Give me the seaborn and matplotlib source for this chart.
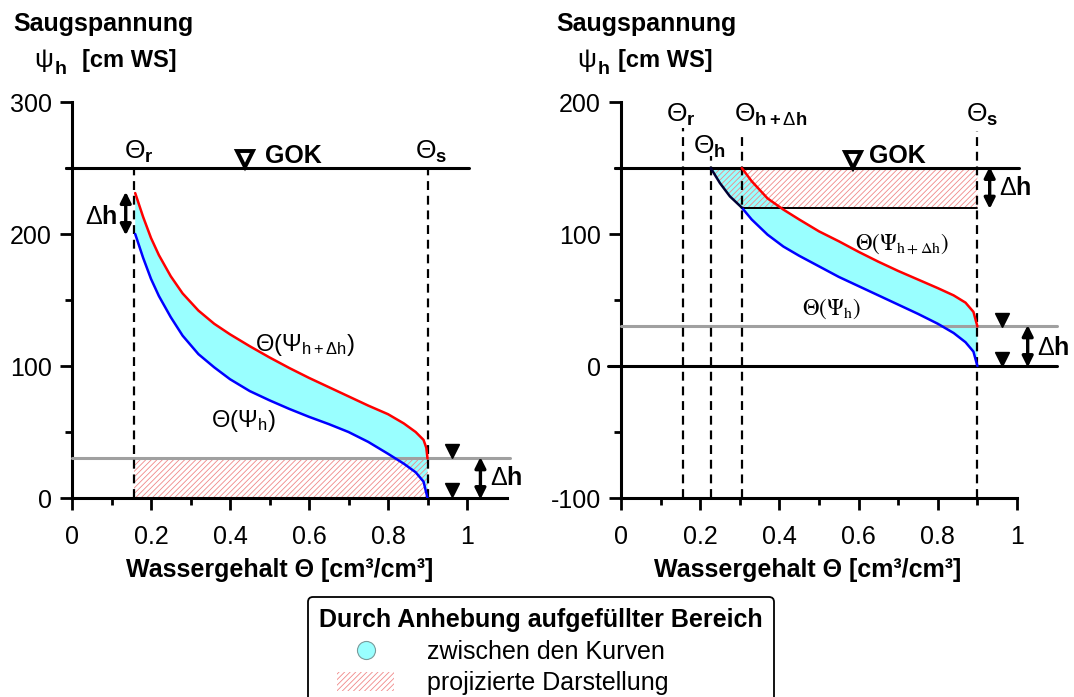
import numpy as np
import pandas as pd
import matplotlib
matplotlib.use("Agg")
import matplotlib.pyplot as plt
import seaborn as sns
from matplotlib.lines import Line2D
from matplotlib.patches import Patch

# ---------------- data ----------------
theta_r = 0.157
theta_s = 0.90
theta_h = 0.2265
theta_hdh = 0.305
dh = 30

# left panel: GOK at 250, water table raised 0 -> 30
left_blue_x = [0.16, 0.18, 0.20, 0.22, 0.25, 0.28, 0.32, 0.36, 0.40, 0.45, 0.50, 0.55,
               0.60, 0.65, 0.70, 0.75, 0.80, 0.84, 0.87, 0.89, 0.90]
left_blue_y = [200, 182, 166, 153, 137, 123, 109, 99, 90, 81, 74, 67.5,
               61.5, 56, 50, 42.5, 33.5, 26, 19.5, 12.4, 0]
left_red_x = [0.16, 0.18, 0.20, 0.22, 0.25, 0.28, 0.32, 0.36, 0.40, 0.45, 0.50, 0.55,
              0.60, 0.65, 0.70, 0.75, 0.80, 0.84, 0.87, 0.89, 0.897, 0.90]
left_red_y = [231, 213, 197, 184, 168, 155, 142, 132, 124, 115, 106.5, 98.5,
              91, 84, 77, 70, 63.5, 56.5, 50, 44, 38, 30]

# right panel: GOK at 150
right_blue_x = [0.2265, 0.25, 0.275, 0.305, 0.33, 0.37, 0.41, 0.45, 0.50, 0.55, 0.60,
                0.65, 0.70, 0.75, 0.80, 0.84, 0.87, 0.89, 0.90]
right_blue_y = [150, 138.5, 128.5, 120, 111, 99.5, 90.5, 83.5, 75.5, 67.5, 60.5,
                53.5, 46.5, 39.5, 32, 25, 18, 10.9, 0]
right_red_x = [0.305, 0.33, 0.37, 0.41, 0.45, 0.50, 0.55, 0.60, 0.65, 0.70, 0.75,
               0.80, 0.84, 0.87, 0.89, 0.90]
right_red_y = [150, 140, 127, 118.5, 111, 102, 94.5, 86.5, 79, 72, 65.5,
               59, 53.5, 48, 41, 30]

left_yticks = [0, 100, 200, 300]
right_yticks = [-100, 0, 100, 200]
xticks = [0, 0.2, 0.4, 0.6, 0.8, 1.0]
xtick_labels = ["0", "0.2", "0.4", "0.6", "0.8", "1"]

legend_title = "Durch Anhebung aufgefüllter Bereich"
legend_labels = ["zwischen den Kurven", "projizierte Darstellung"]

# ---------------- style ----------------
sns.set_theme(style="ticks")
plt.rcParams["font.family"] = ["Liberation Sans", "DejaVu Sans"]
plt.rcParams["mathtext.fontset"] = "custom"
plt.rcParams["mathtext.rm"] = "Liberation Sans"
plt.rcParams["mathtext.it"] = "Liberation Sans:italic"
plt.rcParams["mathtext.bf"] = "Liberation Sans:bold"
plt.rcParams["hatch.linewidth"] = 0.6
plt.rcParams["text.color"] = "black"
plt.rcParams["axes.labelcolor"] = "black"
plt.rcParams["xtick.color"] = "black"
plt.rcParams["ytick.color"] = "black"
plt.rcParams["legend.labelcolor"] = "black"

CYAN = "#99ffff"
RED = "#ff0000"
BLUE = "#0000ff"
HATCH = "#f08888"
GRAY = "#a0a0a0"

W, H = 1074, 697
fig = plt.figure(figsize=(W / 100, H / 100), dpi=100)

axL = fig.add_axes([72 / W, (H - 498) / H, 1.1 * 395 / W, 396 / H])
axR = fig.add_axes([621 / W, (H - 498) / H, 1.1 * 396 / W, 396 / H])


def style_axis(ax, ylim, yticks, xbound):
    ax.set_xlim(0, 1.1)
    ax.set_ylim(*ylim)
    for s in ["top", "right"]:
        ax.spines[s].set_visible(False)
    for s in ["left", "bottom"]:
        ax.spines[s].set_linewidth(2.2)
        ax.spines[s].set_color("black")
    ax.spines["left"].set_bounds(ylim[0], ylim[1])
    ax.spines["bottom"].set_bounds(0, xbound)
    ax.set_xticks(xticks)
    ax.set_xticklabels(xtick_labels)
    ax.set_xticks([0.1, 0.3, 0.5, 0.7, 0.9], minor=True)
    ax.set_yticks(yticks)
    ax.set_yticklabels([str(v) for v in yticks])
    ax.set_yticks([v + 50 for v in yticks[:-1]], minor=True)
    ax.tick_params(which="major", direction="out", length=8.6, width=2.0,
                   labelsize=18, color="black", labelcolor="black")
    ax.tick_params(axis="x", which="major", pad=11)
    ax.tick_params(axis="y", which="major", pad=6)
    ax.tick_params(which="minor", direction="out", length=5, width=2.0, color="black")
    ax.set_xlabel("")
    ax.set_ylabel("")
    ax.patch.set_alpha(0)


style_axis(axL, (0, 300), left_yticks, 1.1)
style_axis(axR, (-100, 200), right_yticks, 1.0)

dash = (0, (4, 2.6))
arrow_kw = dict(arrowstyle="<|-|>", color="black", lw=2.4, mutation_scale=16,
                shrinkA=0, shrinkB=0)

# ---------------- left panel ----------------
ax = axL
ax.fill(left_red_x + left_blue_x[::-1], left_red_y + left_blue_y[::-1],
        color=CYAN, lw=0, zorder=1)
ax.fill_between([theta_r, theta_s], 0, dh, facecolor="none", edgecolor=HATCH,
                hatch="//////", lw=0, zorder=2)
ax.plot([-0.015, 1.005], [250, 250], color="black", lw=2.2, zorder=4, clip_on=False)
ax.plot([0.0, 1.108], [dh, dh], color=GRAY, lw=2.2, zorder=3, clip_on=False)
for xv in [theta_r, theta_s]:
    ax.plot([xv, xv], [0, 249], color="black", lw=1.6, ls=dash, zorder=3)
sns.lineplot(x=left_blue_x, y=left_blue_y, ax=ax, color=BLUE, lw=1.8,
             sort=False, estimator=None, zorder=5)
sns.lineplot(x=left_red_x, y=left_red_y, ax=ax, color=RED, lw=1.8,
             sort=False, estimator=None, zorder=5)

ax.text(0.132, 257.3, r"$\Theta_{\mathbf{r}}$", fontsize=19, ha="left", va="baseline")
ax.text(0.868, 257.3, r"$\Theta_{\mathbf{s}}$", fontsize=19, ha="left", va="baseline")
ax.plot([0.438], [256.8], marker="v", ms=12, mfc="white", mec="black", mew=2.8,
        clip_on=False, zorder=6)
ax.text(0.489, 253.6, "GOK", fontsize=18, fontweight="bold", ha="left", va="baseline")
ax.annotate("", xy=(0.136, 199), xytext=(0.136, 232), arrowprops=arrow_kw)
ax.text(0.115, 213, r"$\Delta\mathbf{h}$", fontsize=18, ha="right", va="center")
ax.text(0.463, 111, r"$\Theta(\Psi_{\mathrm{h+}\Delta\mathrm{h}})$", fontsize=17,
        ha="left", va="baseline")
ax.text(0.353, 54, r"$\Theta(\Psi_{\mathrm{h}})$", fontsize=17, ha="left", va="baseline")
ax.plot([0.962, 0.962], [35.6, 6], ls="none", marker="v", ms=10, color="black",
        clip_on=False, zorder=6)
ax.annotate("", xy=(1.034, -1), xytext=(1.034, 31), arrowprops=arrow_kw,
            annotation_clip=False)
ax.text(1.058, 15, r"$\Delta\mathbf{h}$", fontsize=18, ha="left", va="center")

# ---------------- right panel ----------------
ax = axR
gok_r = 150
upper_x = [right_blue_x[0]] + right_red_x
upper_y = [gok_r] + right_red_y
ax.fill(upper_x + right_blue_x[::-1], upper_y + right_blue_y[::-1],
        color=CYAN, lw=0, zorder=1)
n_top = right_blue_x.index(theta_hdh) + 1
hx = right_blue_x[:n_top] + [theta_s, theta_s]
hy = right_blue_y[:n_top] + [gok_r - dh, gok_r]
ax.fill(hx, hy, facecolor="none", edgecolor=HATCH, hatch="//////", lw=0, zorder=2)
ax.plot([-0.015, 1.004], [gok_r, gok_r], color="black", lw=2.2, zorder=4, clip_on=False)
ax.plot([theta_hdh, theta_s], [gok_r - dh, gok_r - dh], color="black", lw=1.4, zorder=4)
ax.plot([0.0, 1.1], [dh, dh], color=GRAY, lw=2.2, zorder=3, clip_on=False)
ax.plot([-0.033, 1.1], [0, 0], color="black", lw=2.2, zorder=4, clip_on=False)
for xv, top in [(theta_r, 180), (theta_h, 159), (theta_hdh, 177.5), (theta_s, 178)]:
    ax.plot([xv, xv], [-100, top], color="black", lw=1.6, ls=dash, zorder=3)
sns.lineplot(x=right_blue_x[n_top - 1:], y=right_blue_y[n_top - 1:], ax=ax, color=BLUE,
             lw=1.8, sort=False, estimator=None, zorder=5)
sns.lineplot(x=right_blue_x[:n_top], y=right_blue_y[:n_top], ax=ax, color="#000033",
             lw=1.8, sort=False, estimator=None, zorder=5)
sns.lineplot(x=right_red_x, y=right_red_y, ax=ax, color=RED, lw=1.8,
             sort=False, estimator=None, zorder=5)

ax.text(0.114, 185, r"$\Theta_{\mathbf{r}}$", fontsize=19, ha="left", va="baseline")
ax.text(0.285, 185, r"$\Theta_{\mathbf{h+}\Delta\mathbf{h}}$", fontsize=19, ha="left", va="baseline")
ax.text(0.870, 185, r"$\Theta_{\mathbf{s}}$", fontsize=19, ha="left", va="baseline")
ax.text(0.182, 161, r"$\Theta_{\mathbf{h}}$", fontsize=19, ha="left", va="baseline")
ax.plot([0.585], [156], marker="v", ms=12, mfc="white", mec="black", mew=2.8,
        clip_on=False, zorder=6)
ax.text(0.625, 153.5, "GOK", fontsize=18, fontweight="bold", ha="left", va="baseline")
ax.annotate("", xy=(0.931, 119), xytext=(0.931, 151), arrowprops=arrow_kw)
ax.text(0.955, 134.6, r"$\Delta\mathbf{h}$", fontsize=18, ha="left", va="center")
ax.text(0.591, 88, r"$\Theta(\Psi_{\mathrm{h+}\Delta\mathrm{h}})$", fontsize=16.5,
        ha="left", va="baseline", math_fontfamily="stix")
ax.text(0.457, 39, r"$\Theta(\Psi_{\mathrm{h}})$", fontsize=16.5, ha="left", va="baseline",
        math_fontfamily="stix")
ax.plot([0.961, 0.961], [34.8, 5.3], ls="none", marker="v", ms=10, color="black",
        clip_on=False, zorder=6)
ax.annotate("", xy=(1.027, -1), xytext=(1.027, 31), arrowprops=arrow_kw,
            annotation_clip=False)
ax.text(1.05, 14, r"$\Delta\mathbf{h}$", fontsize=18, ha="left", va="center")

# ---------------- axis titles ----------------
def fy(py):
    return 1 - py / H

for x0, xpsi, xh, xunit in [(13, 34.4, 55, 81.6), (556.3, 577.5, 598, 617.7)]:
    fig.text(x0 / W, fy(31), "Saugspannung", fontsize=18, fontweight="bold",
             ha="left", va="baseline")
    fig.text(xpsi / W, fy(66.7), "ψ", fontsize=19, ha="left", va="baseline")
    fig.text(xh / W, fy(74), "h", fontsize=14, fontweight="bold", ha="left", va="baseline")
    fig.text(xunit / W, fy(66.7), "[cm WS]", fontsize=17, fontweight="bold",
             ha="left", va="baseline")

for xc in [280, 808]:
    fig.text(xc / W, fy(576.7), "Wassergehalt Θ [cm³/cm³]", fontsize=18,
             fontweight="bold", ha="center", va="baseline")

# ---------------- legend ----------------
handles = [
    Line2D([], [], ls="none", marker="o", ms=13, mfc=CYAN, mec="#7a9a9a", mew=0.8),
    Patch(facecolor="none", edgecolor=HATCH, hatch="//////", lw=0),
]
pad_labels = [lab + "\u00a0" * 11 for lab in legend_labels]
leg = fig.legend(handles, pad_labels, title=legend_title, loc="upper center",
                 bbox_to_anchor=(541 / W, fy(597)), frameon=True, fancybox=True,
                 fontsize=18, title_fontproperties={"weight": "bold", "size": 18},
                 handlelength=2.3, handleheight=0.8, handletextpad=1.3,
                 labelspacing=0.3, borderpad=0.45, borderaxespad=0, framealpha=1)
leg.get_frame().set_edgecolor("black")
leg.get_frame().set_linewidth(1.3)

fig.savefig("out.png", dpi=100)
